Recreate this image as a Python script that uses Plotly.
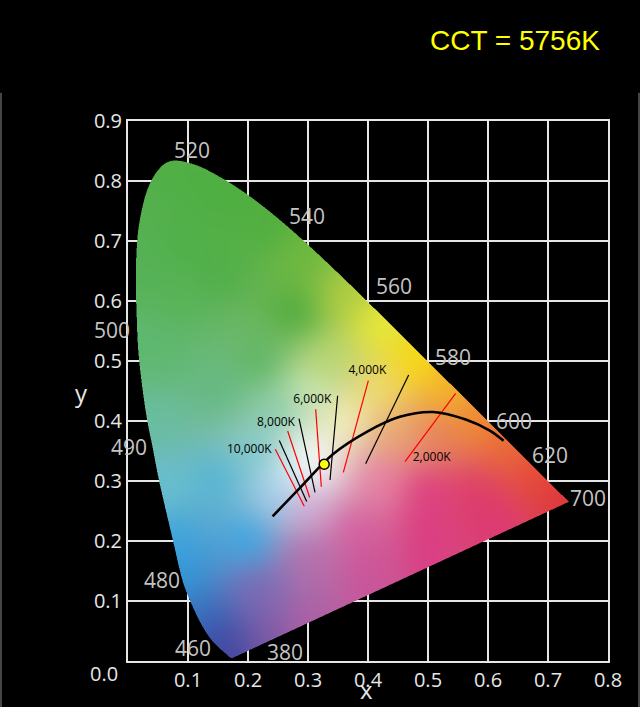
import base64
import struct
import zlib

import numpy as np
import plotly.graph_objects as go

# spectral locus outline (CIE 1931 values, left flank)
locus_x = [0.1741, 0.1740, 0.1738, 0.1736, 0.1733, 0.1730, 0.1726, 0.1721, 0.1714,
           0.1703, 0.1689, 0.1669, 0.1644, 0.1611, 0.1566, 0.1510, 0.1440, 0.1355,
           0.1241, 0.1096, 0.0913, 0.0750, 0.0530, 0.0420, 0.0310, 0.0230, 0.0170,
           0.0145, 0.0130, 0.0145, 0.0190, 0.0310, 0.0500, 0.0743, 0.1142, 0.1547,
           0.1929, 0.2296, 0.2658, 0.3016, 0.3373, 0.3731, 0.4087, 0.4441, 0.4788,
           0.5125, 0.5448, 0.5752, 0.6029, 0.6270, 0.6482, 0.6658, 0.6801, 0.6915,
           0.7006, 0.7079, 0.7140, 0.7190, 0.7230, 0.7260, 0.7283, 0.7300, 0.7311,
           0.7320, 0.7334, 0.7344, 0.7347]
locus_y = [0.0050, 0.0050, 0.0049, 0.0049, 0.0048, 0.0048, 0.0048, 0.0048, 0.0051,
           0.0058, 0.0069, 0.0086, 0.0109, 0.0138, 0.0177, 0.0227, 0.0297, 0.0399,
           0.0578, 0.0868, 0.1327, 0.2007, 0.2950, 0.3510, 0.4070, 0.4630, 0.5190,
           0.5750, 0.6310, 0.6870, 0.7310, 0.7820, 0.8180, 0.8338, 0.8262, 0.8059,
           0.7816, 0.7543, 0.7243, 0.6923, 0.6589, 0.6245, 0.5896, 0.5547, 0.5202,
           0.4866, 0.4544, 0.4242, 0.3965, 0.3725, 0.3514, 0.3340, 0.3197, 0.3083,
           0.2993, 0.2920, 0.2859, 0.2809, 0.2770, 0.2740, 0.2717, 0.2700, 0.2689,
           0.2680, 0.2666, 0.2656, 0.2653]

# colour samples (x, y, r, g, b)
anchor_x = [0.175, 0.145, 0.125, 0.095, 0.080, 0.060, 0.040, 0.030, 0.025, 0.040,
            0.080, 0.160, 0.230, 0.300, 0.360, 0.420, 0.480, 0.530, 0.580, 0.630,
            0.680, 0.720, 0.620, 0.500, 0.400, 0.300, 0.230,
            0.310, 0.300, 0.360, 0.420, 0.450, 0.520, 0.420, 0.500, 0.580, 0.380,
            0.300, 0.300, 0.220, 0.200, 0.250, 0.220, 0.150, 0.150, 0.220, 0.280,
            0.150, 0.330, 0.300, 0.250, 0.500, 0.400, 0.600, 0.280,
            0.080, 0.100, 0.060]
anchor_y = [0.010, 0.040, 0.070, 0.140, 0.200, 0.290, 0.400, 0.520, 0.650, 0.760,
            0.810, 0.780, 0.730, 0.670, 0.610, 0.560, 0.500, 0.450, 0.400, 0.355,
            0.305, 0.268, 0.210, 0.160, 0.110, 0.065, 0.035,
            0.325, 0.350, 0.400, 0.450, 0.380, 0.380, 0.300, 0.280, 0.280, 0.220,
            0.260, 0.170, 0.120, 0.200, 0.280, 0.350, 0.300, 0.450, 0.500, 0.580,
            0.650, 0.500, 0.450, 0.420, 0.220, 0.160, 0.240, 0.310,
            0.600, 0.700, 0.520]
anchor_rgb = [(70, 70, 160), (60, 75, 165), (55, 110, 190), (50, 150, 215),
              (60, 165, 222), (105, 192, 208), (105, 190, 160), (95, 185, 115),
              (85, 178, 85), (84, 177, 78), (80, 175, 68), (78, 175, 64),
              (80, 175, 62), (110, 185, 62), (175, 205, 65), (235, 235, 55),
              (250, 220, 15), (245, 180, 40), (240, 140, 50), (235, 105, 55),
              (230, 75, 55), (222, 55, 60), (220, 58, 118), (218, 62, 132),
              (200, 85, 155), (175, 95, 165), (125, 90, 165),
              (250, 250, 250), (246, 250, 245), (245, 240, 185), (240, 220, 110),
              (235, 165, 115), (232, 130, 90), (232, 130, 165), (222, 62, 128),
              (222, 60, 105), (215, 95, 160), (212, 170, 212), (180, 110, 172),
              (125, 105, 180), (60, 168, 226), (160, 210, 238), (130, 202, 205),
              (85, 182, 212), (100, 185, 130), (95, 182, 100), (80, 172, 62),
              (80, 175, 72), (185, 215, 115), (200, 230, 180), (140, 205, 170),
              (220, 60, 130), (205, 85, 152), (220, 58, 112), (228, 240, 245),
              (88, 180, 88), (80, 176, 72), (95, 184, 110)]

wl_labels = ["380", "460", "480", "490", "500", "520", "540", "560", "580", "600", "620", "700"]
wl_x = [0.262, 0.108, 0.057, 0.002, -0.027, 0.107, 0.298, 0.443, 0.542, 0.643, 0.703, 0.767]
wl_y = [0.015, 0.022, 0.135, 0.357, 0.552, 0.852, 0.742, 0.625, 0.507, 0.400, 0.343, 0.272]

# blackbody curve
planck_x = [0.241, 0.287, 0.342, 0.398, 0.453, 0.509, 0.564, 0.603, 0.626]
planck_y = [0.241, 0.289, 0.345, 0.382, 0.407, 0.415, 0.402, 0.384, 0.367]

# isotherm segments
iso_x0 = [0.2455, 0.2522, 0.2661, 0.2850, 0.3128, 0.3494, 0.4006, 0.4678, 0.5461]
iso_y0 = [0.3530, 0.3677, 0.3833, 0.4040, 0.4197, 0.4421, 0.4673, 0.4768, 0.4461]
iso_x1 = [0.2938, 0.2978, 0.3028, 0.3117, 0.3222, 0.3367, 0.3589, 0.3961, 0.4617]
iso_y1 = [0.2580, 0.2658, 0.2725, 0.2809, 0.2905, 0.3017, 0.3145, 0.3286, 0.3324]
iso_color = ["red", "black", "red", "black", "red", "black", "red", "black", "red"]

cct_labels = ["10,000K", "8,000K", "6,000K", "4,000K", "2,000K"]
cct_x = [0.2022, 0.2467, 0.3072, 0.3989, 0.5061]
cct_y = [0.3520, 0.3968, 0.4349, 0.4841, 0.3380]

point_x = [0.327]
point_y = [0.328]
cct_value = 5756

X_MAX, Y_MAX = 0.8, 0.9


def inside(px, py, vx, vy):
    res = np.zeros(px.shape, dtype=bool)
    j = len(vx) - 1
    for i in range(len(vx)):
        xi, yi, xj, yj = vx[i], vy[i], vx[j], vy[j]
        cross = (yi > py) != (yj > py)
        xint = (xj - xi) * (py - yi) / (yj - yi + 1e-12) + xi
        res ^= cross & (px < xint)
        j = i
    return res


def smooth_outline(xs, ys, n=8):
    # catmull-rom through the locus points, only used for drawing the fill edge
    p = np.column_stack([xs, ys])
    p = np.vstack([p[0], p, p[-1]])
    out = []
    for i in range(1, len(p) - 2):
        p0, p1, p2, p3 = p[i - 1], p[i], p[i + 1], p[i + 2]
        for t in np.linspace(0, 1, n, endpoint=False):
            t2, t3 = t * t, t * t * t
            out.append(0.5 * (2 * p1 + (-p0 + p2) * t + (2 * p0 - 5 * p1 + 4 * p2 - p3) * t2
                              + (-p0 + 3 * p1 - 3 * p2 + p3) * t3))
    out.append(p[-2])
    out = np.array(out)
    return out[:, 0], out[:, 1]


def blur(a, sigma):
    r = int(3 * sigma)
    k = np.exp(-0.5 * (np.arange(-r, r + 1) / sigma) ** 2)
    k /= k.sum()
    a = np.pad(a, ((r, r), (r, r), (0, 0)), mode="edge")
    h, w = a.shape[0] - 2 * r, a.shape[1] - 2 * r
    tmp = sum(k[i] * a[i:i + h, :, :] for i in range(2 * r + 1))
    return sum(k[i] * tmp[:, i:i + w, :] for i in range(2 * r + 1))


def png_uri(rgba):
    h, w, _ = rgba.shape
    raw = b"".join(b"\x00" + rgba[r].tobytes() for r in range(h))

    def chunk(tag, data):
        body = tag + data
        return struct.pack(">I", len(data)) + body + struct.pack(">I", zlib.crc32(body) & 0xFFFFFFFF)

    png = (b"\x89PNG\r\n\x1a\n"
           + chunk(b"IHDR", struct.pack(">IIBBBBB", w, h, 8, 6, 0, 0, 0))
           + chunk(b"IDAT", zlib.compress(raw, 9))
           + chunk(b"IEND", b""))
    return "data:image/png;base64," + base64.b64encode(png).decode()


# colour fill of the horseshoe
W_PX, H_PX = 480, 540
sx, sy = X_MAX / W_PX, Y_MAX / H_PX
gx = (np.arange(W_PX) + 0.5) * sx
gy = (np.arange(H_PX) + 0.5) * sy
GX, GY = np.meshgrid(gx, gy)
vx, vy = smooth_outline(locus_x, locus_y)

alpha = np.zeros(GX.shape)
for ox in (-0.25, 0.25):
    for oy in (-0.25, 0.25):
        alpha += inside(GX + ox * sx, GY + oy * sy, vx, vy)
alpha /= 4.0

num = np.zeros(GX.shape + (3,))
den = np.zeros(GX.shape)
for ax_, ay_, c in zip(anchor_x, anchor_y, anchor_rgb):
    w = 1.0 / ((GX - ax_) ** 2 + (GY - ay_) ** 2 + 1e-6) ** 1.5
    num += w[..., None] * np.array(c, dtype=float)
    den += w
rgb = blur(num / den[..., None], 13)

img = np.zeros(GX.shape + (4,), dtype=np.uint8)
img[..., :3] = np.clip(rgb, 0, 255).astype(np.uint8)
img[..., 3] = (alpha * 255).astype(np.uint8)

fig = go.Figure()

# row 0 of the image sits at y0 (bottom)
fig.add_trace(go.Image(
    source=png_uri(img), x0=sx / 2, dx=sx, y0=sy / 2, dy=sy, hoverinfo="skip",
))

for i in range(len(iso_x0)):
    fig.add_trace(go.Scatter(
        x=[iso_x0[i], iso_x1[i]], y=[iso_y0[i], iso_y1[i]], mode="lines",
        line=dict(color=iso_color[i], width=1.2), hoverinfo="skip", showlegend=False,
    ))

fig.add_trace(go.Scatter(
    x=planck_x, y=planck_y, mode="lines", line=dict(color="black", width=2.6, shape="spline"),
    hoverinfo="skip", showlegend=False,
))

fig.add_trace(go.Scatter(
    x=cct_x, y=cct_y, mode="text", text=cct_labels,
    textfont=dict(family="Open Sans", size=12, color="black"), hoverinfo="skip", showlegend=False,
))

fig.add_trace(go.Scatter(
    x=point_x, y=point_y, mode="markers",
    marker=dict(size=10, color="#ffff00", line=dict(color="black", width=1.5)),
    showlegend=False,
))

# wavelength labels (paper coords so those left of the axis still show)
for lab, lx, ly in zip(wl_labels, wl_x, wl_y):
    fig.add_annotation(x=lx / X_MAX, y=ly / Y_MAX, xref="paper", yref="paper", text=lab,
                       showarrow=False, xanchor="center", yanchor="middle",
                       font=dict(family="Open Sans", size=21, color="#c4c4c4"))

axis_common = dict(
    showgrid=True, gridcolor="#e6e6e6", gridwidth=2, showline=True, linecolor="#e6e6e6",
    linewidth=2, mirror=True, zeroline=False, ticks="",
    tickfont=dict(family="Open Sans", size=20, color="#e6e6e6"),
)
fig.update_xaxes(range=[0, X_MAX], tickvals=[0.1, 0.2, 0.3, 0.4, 0.5, 0.6, 0.7, 0.8],
                 ticktext=["0.1", "0.2", "0.3", "0.4", "0.5", "0.6", "0.7", "0.8"], **axis_common)
fig.update_yaxes(range=[0, Y_MAX], tickvals=[0.1, 0.2, 0.3, 0.4, 0.5, 0.6, 0.7, 0.8, 0.9],
                 ticktext=["0.1", "0.2", "0.3", "0.4", "0.5", "0.6", "0.7", "0.8", "0.9"],
                 **axis_common)

fig.add_annotation(x=-0.04 / X_MAX, y=-0.02 / Y_MAX, xref="paper", yref="paper", text="0.0",
                   showarrow=False, xanchor="center", yanchor="middle",
                   font=dict(family="Open Sans", size=20, color="#e6e6e6"))
fig.add_annotation(x=0.398 / X_MAX, y=-0.048 / Y_MAX, xref="paper", yref="paper", text="x",
                   showarrow=False, xanchor="center", yanchor="middle",
                   font=dict(family="Open Sans", size=24, color="#e6e6e6"))
fig.add_annotation(x=-0.077 / X_MAX, y=0.448 / Y_MAX, xref="paper", yref="paper", text="y",
                   showarrow=False, xanchor="center", yanchor="middle",
                   font=dict(family="Open Sans", size=24, color="#e6e6e6"))
fig.add_annotation(x=0.806, y=1.15, xref="paper", yref="paper", text=f"CCT = {cct_value}K",
                   showarrow=False, xanchor="center", yanchor="middle",
                   font=dict(family="Liberation Sans", size=28, color="#ffff00"))

# thin frame lines at the image edges
for px in (-0.2646, 1.0646):
    fig.add_shape(type="line", xref="paper", yref="paper", x0=px, x1=px, y0=1.052, y1=-0.09,
                  line=dict(color="#8a8a8a", width=1))

fig.update_layout(
    width=640, height=707, margin=dict(l=128, r=32, t=121, b=46),
    paper_bgcolor="black", plot_bgcolor="black",
)

fig.write_html(
    "out.html",
    config={"displayModeBar": False},
    post_script="document.body.style.margin='0';document.body.style.background='black';",
)
